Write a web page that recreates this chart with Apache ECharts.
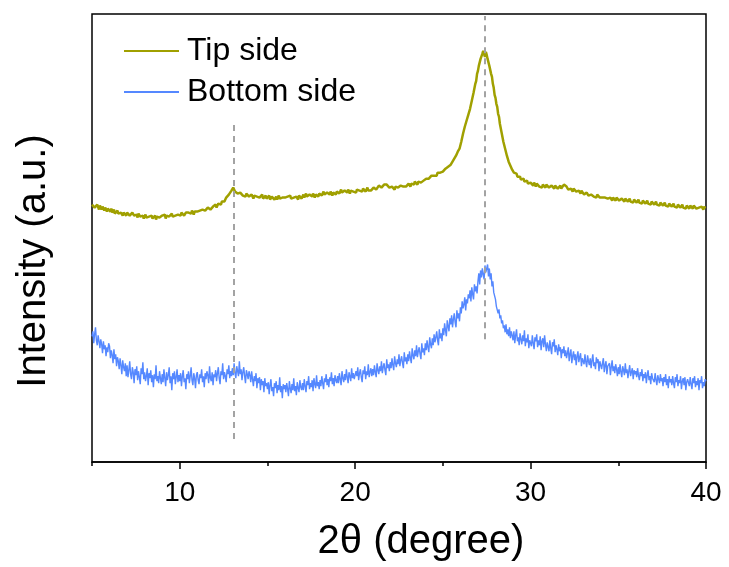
<!DOCTYPE html>
<html>
<head>
<meta charset="utf-8">
<title>XRD patterns</title>
<script src="https://cdn.jsdelivr.net/npm/echarts@6/dist/echarts.min.js"></script>
<style>
  html, body { margin: 0; padding: 0; background: #ffffff; }
  #chart { width: 729px; height: 567px; }
</style>
</head>
<body>
<div id="chart"></div>
<script>
// Scan grid: 2θ from 5° to 40° in 0.05° steps (701 points per pattern)
const scanStart = 5;
const scanStep = 0.05;

// Tip side intensity (a.u.), one row per degree (5.00–5.95, ..., 39.00–39.95), then 40.00
const tipSide = [
  258,256,259,255,257,254,258,256,253,257,255,253,256,254,252,255,253,251,254,252,
  253,251,254,250,252,253,249,251,250,252,249,251,248,250,252,247,250,248,249,247,
  250,248,251,247,249,246,250,248,247,249,246,248,245,249,247,246,248,245,247,244,
  246,248,245,247,244,246,248,245,247,244,246,245,247,243,246,244,247,245,246,244,
  247,245,246,248,244,247,245,248,246,244,247,249,246,248,245,247,249,246,248,247,
  249,247,250,248,251,247,249,250,248,251,250,248,251,249,252,250,248,251,249,252,
  251,253,250,252,254,251,253,252,255,252,254,252,255,253,256,253,255,254,256,254,
  256,258,255,257,259,257,260,258,261,260,262,261,263,265,264,266,268,267,270,272,
  272,275,273,271,270,272,269,271,268,270,268,271,267,269,268,266,269,267,268,266,
  267,265,268,266,264,267,265,268,266,264,267,265,263,266,268,264,266,265,267,264,
  266,264,267,263,265,266,264,267,263,265,266,263,265,267,264,266,263,265,267,264,
  265,267,263,266,264,265,267,264,266,263,265,267,264,266,265,263,267,265,266,264,
  266,268,265,267,269,266,267,265,268,266,268,266,269,267,265,268,270,267,266,269,
  268,270,267,269,271,268,269,267,270,268,270,268,271,269,267,270,272,269,268,271,
  270,272,269,271,273,270,271,269,272,270,272,270,273,271,269,272,270,273,271,270,
  272,270,273,271,274,272,270,273,271,274,272,274,271,273,275,272,271,274,272,273,
  273,275,274,276,273,275,274,277,275,276,275,277,276,278,277,279,278,276,277,275,
  275,273,276,274,275,273,276,274,277,275,276,274,277,275,278,276,275,277,276,278,
  277,279,278,276,279,277,280,278,281,279,280,278,281,279,282,280,281,279,282,281,
  282,284,283,285,284,286,285,287,286,288,287,289,288,287,290,289,291,290,292,291,
  291,293,292,294,295,294,296,297,298,298,300,301,303,304,306,307,309,311,312,314,
  316,321,323,329,331,336,337,342,343,348,349,354,356,362,364,370,372,379,382,389,
  392,397,399,404,405,409,412,410,406,411,408,404,402,397,395,389,386,379,375,368,
  365,359,356,349,346,339,337,330,328,321,319,314,312,307,306,301,301,297,297,293,
  293,290,291,288,289,286,287,285,286,283,284,282,284,281,283,280,282,279,281,279,
  280,278,279,277,280,278,276,279,277,278,276,278,277,275,278,276,277,275,278,276,
  277,275,276,274,277,275,276,274,277,275,276,274,276,275,277,274,276,275,278,276,
  279,276,274,273,275,272,274,273,271,274,272,273,271,273,270,272,271,269,272,270,
  270,268,269,267,270,268,267,269,266,268,267,269,266,268,267,265,268,266,267,265,
  266,267,265,264,266,265,263,266,264,265,263,265,264,262,265,263,264,262,265,263,
  264,262,263,261,264,262,263,261,264,262,263,261,262,264,261,263,262,260,263,261,
  262,260,261,263,260,262,261,259,262,260,261,259,260,262,259,261,260,258,261,259,
  260,258,259,261,258,260,259,257,260,258,259,257,258,260,257,259,258,256,259,257,
  258,256,257,259,256,258,257,255,258,256,257,255,256,258,255,257,256,254,257,255,
  256,254,257,255,256,254,257,255,256,254,256,254,255,257,254,256,255,253,256,254,
  255
];

// Bottom side intensity (a.u.), same grid and row layout
const bottomSide = [
  126,131,119,128,135,122,117,127,121,114,123,118,109,121,113,117,106,115,110,119,
  116,104,112,107,99,113,103,108,96,105,101,93,104,97,88,102,95,91,99,86,
  97,85,92,101,88,83,95,90,79,93,87,96,82,91,85,78,94,88,100,83,
  90,81,86,94,77,89,84,92,80,87,75,88,83,97,81,86,79,91,84,78,
  88,80,93,84,76,90,82,87,95,79,86,72,89,83,91,78,85,93,80,87,
  81,89,76,86,92,80,84,73,88,83,91,79,86,95,82,77,89,84,74,87,
  90,82,78,88,84,93,80,86,75,89,83,91,87,79,96,84,81,90,77,88,
  85,92,81,89,95,84,78,91,87,99,83,90,86,80,93,88,97,84,91,86,
  94,87,99,89,84,96,91,86,101,88,93,82,90,95,86,79,92,88,83,91,
  87,80,91,83,76,86,81,89,74,84,79,85,72,83,77,81,70,84,76,79,
  73,80,68,77,83,71,75,66,79,74,81,69,77,72,85,70,76,64,78,73,
  77,70,79,73,66,81,74,69,78,72,84,71,76,67,80,74,70,82,75,72,
  79,72,83,76,70,81,77,86,73,79,75,82,71,84,78,74,87,76,80,73,
  82,76,86,79,73,84,80,88,77,83,75,85,81,90,78,84,76,87,82,79,
  86,79,89,83,77,91,84,80,88,82,93,85,79,90,86,81,94,84,89,83,
  84,91,86,95,82,89,93,85,80,92,88,96,83,91,87,98,85,90,94,86,
  93,87,97,90,85,99,92,88,96,91,101,89,95,99,92,87,103,94,98,91,
  100,94,104,97,92,106,99,95,103,98,108,96,102,106,99,94,110,101,105,98,
  108,101,111,104,99,114,107,103,112,106,117,105,111,115,108,103,119,110,114,107,
  119,112,122,115,110,125,118,114,124,117,128,120,125,131,122,117,133,124,129,121,
  134,127,139,132,126,142,136,131,144,138,147,135,143,149,140,135,152,144,149,141,
  155,149,161,154,158,165,152,163,159,168,164,172,161,175,168,163,178,171,176,169,
  181,189,178,192,185,194,188,183,197,190,192,198,186,194,183,189,176,181,170,172,
  163,156,158,149,153,144,147,139,142,134,137,130,138,128,133,126,135,124,131,127,
  122,131,119,127,133,121,125,117,129,123,118,127,121,132,116,124,120,128,114,122,
  124,116,127,119,113,125,121,128,115,122,117,126,112,121,124,115,127,118,111,120,
  119,111,122,114,108,120,116,123,110,117,113,107,118,111,115,104,113,109,116,106,
  112,104,109,115,101,108,113,99,106,111,102,108,97,106,111,100,105,109,96,104,
  105,98,108,100,95,107,101,97,104,94,102,108,96,100,93,105,99,103,91,101,
  100,93,99,104,90,97,101,88,96,94,99,87,95,102,91,96,89,98,93,86,
  95,88,98,90,85,96,92,87,99,89,93,84,91,97,86,90,94,83,92,88,
  91,85,94,87,82,90,86,93,81,88,84,90,79,87,92,82,86,78,89,84,
  86,80,89,82,77,87,83,79,88,81,84,76,85,80,88,77,83,74,86,80,
  83,77,86,79,74,85,80,88,76,82,79,86,73,81,84,77,85,72,80,83,
  82,76,85,78,73,84,79,86,75,81,77,84,72,82,79,86,74,80,76,83,
  81
];

// Axis ticks
const majorTicks = [10, 20, 30, 40];
const minorTicks = [5, 15, 25, 35];

// Reference peak positions (2θ) and the vertical span of each guide line
const peakGuides = [
  { at: 13.1, from: 23, to: 340 },
  { at: 27.4, from: 123, to: 447 }
];

const seriesNames = ['Tip side', 'Bottom side'];

function toPairs(values) {
  return values.map((v, i) => [+(scanStart + i * scanStep).toFixed(2), v]);
}

const FONT = 'Liberation Sans, Arial, Helvetica, sans-serif';
const chart = echarts.init(document.getElementById('chart'), null, { renderer: 'canvas' });

chart.setOption({
  animation: false,
  backgroundColor: '#ffffff',
  grid: {
    left: 92, right: 23, top: 14, bottom: 104,
    show: true, borderColor: '#000000', borderWidth: 1.5,
    backgroundColor: 'transparent'
  },
  legend: {
    orient: 'vertical',
    left: 124, top: 35, padding: 0,
    icon: 'rect',
    itemWidth: 55, itemHeight: 2, itemGap: 9,
    data: seriesNames,
    textStyle: { fontFamily: FONT, fontSize: 32, color: '#000000', padding: [0, 0, 0, 3] }
  },
  xAxis: [
    {
      type: 'value', min: 5, max: 40,
      name: '2θ (degree)', nameLocation: 'middle', nameGap: 60,
      nameTextStyle: { fontFamily: FONT, fontSize: 40, color: '#000000', padding: [0, 0, 0, 44] },
      axisLine: { show: true, lineStyle: { color: '#000000', width: 1.5 } },
      axisTick: { show: true, length: 7, lineStyle: { color: '#000000', width: 1.5 }, customValues: majorTicks },
      axisLabel: { show: true, margin: 17, fontFamily: FONT, fontSize: 28, color: '#000000', customValues: majorTicks },
      splitLine: { show: false }
    },
    {
      type: 'value', min: 5, max: 40, position: 'bottom',
      axisLine: { show: false },
      axisTick: { show: true, length: 4, lineStyle: { color: '#000000', width: 1.5 }, customValues: minorTicks },
      axisLabel: { show: false, customValues: minorTicks },
      splitLine: { show: false }
    }
  ],
  yAxis: {
    type: 'value', min: 0, max: 449,
    name: 'Intensity (a.u.)', nameLocation: 'middle', nameGap: 38,
    nameTextStyle: { fontFamily: FONT, fontSize: 40, color: '#000000', padding: [0, 46, 0, 0] },
    axisLine: { show: false }, axisTick: { show: false },
    axisLabel: { show: false }, splitLine: { show: false }
  },
  series: [
    {
      name: seriesNames[0], type: 'line', xAxisIndex: 0,
      data: toPairs(tipSide),
      showSymbol: false, symbol: 'none',
      lineStyle: { color: '#a0a000', width: 2.5 },
      itemStyle: { color: '#a0a000' },
      z: 3,
      markLine: {
        silent: true, symbol: 'none', label: { show: false },
        lineStyle: { color: '#a3a3a3', width: 2, type: [6, 5] },
        data: peakGuides.map(g => [{ coord: [g.at, g.from] }, { coord: [g.at, g.to] }])
      }
    },
    {
      name: seriesNames[1], type: 'line', xAxisIndex: 0,
      data: toPairs(bottomSide),
      showSymbol: false, symbol: 'none',
      lineStyle: { color: '#5588ff', width: 1.4 },
      itemStyle: { color: '#5588ff' },
      z: 3
    }
  ]
});
</script>
</body>
</html>
